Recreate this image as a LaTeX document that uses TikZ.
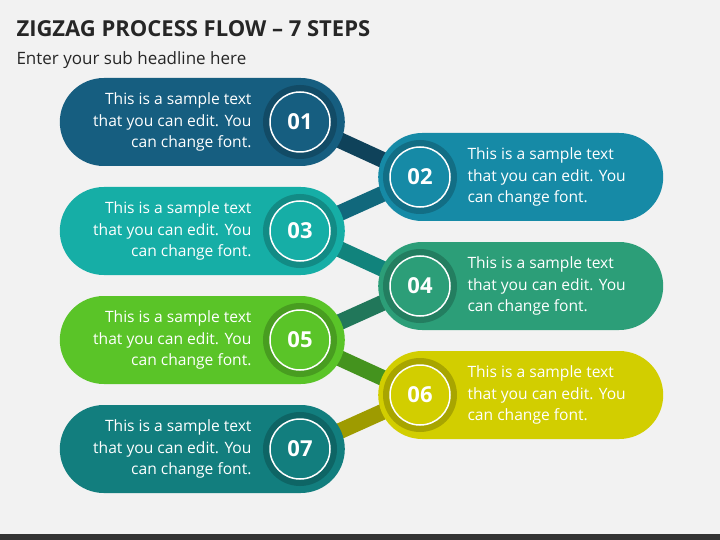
\documentclass[tikz,border=0pt]{standalone}
\usepackage{fontspec}
\setmainfont{Open Sans}
\definecolor{bgray}{RGB}{242,242,242}
\definecolor{stepa}{RGB}{22,94,128}
\definecolor{stepb}{RGB}{22,138,166}
\definecolor{stepc}{RGB}{22,174,166}
\definecolor{stepd}{RGB}{44,158,120}
\definecolor{stepe}{RGB}{90,196,40}
\definecolor{stepf}{RGB}{210,206,0}
\definecolor{stepg}{RGB}{18,126,126}

\tikzset{
    pill/.style={rounded corners=44pt, minimum width=285pt, minimum height=88pt},
    ring/.style={circle, minimum size=74pt, inner sep=0pt},
    numcirc/.style={circle, minimum size=60pt, inner sep=0pt, draw=white, line width=1.5pt,
        text=white, font=\bfseries\fontsize{22}{22}\selectfont},
    stepbar/.style={line width=16pt},
    lefttext/.style={align=right, text=white, font=\fontsize{15.6}{21.5}\selectfont},
    righttext/.style={align=left, text=white, font=\fontsize{15.6}{21.5}\selectfont},
}

\begin{document}
\begin{tikzpicture}[x=1pt, y=-1pt]

    \fill[bgray] (0,0) rectangle (720,540);
    \fill[black!80] (0,534) rectangle (720,540);
    \useasboundingbox (0,0) rectangle (720,540);

    \node[anchor=west, font=\bfseries\fontsize{22}{22}\selectfont, text=black!85] (title) at (13,29) {ZIGZAG PROCESS FLOW – 7 STEPS};
    \node[anchor=west, font=\fontsize{17}{17}\selectfont, text=black!85] (sub) at (13,60) {Enter your sub headline here};

    % circle centres
    \coordinate (c1) at (300,122);
    \coordinate (c2) at (420,177);
    \coordinate (c3) at (300,231);
    \coordinate (c4) at (420,286);
    \coordinate (c5) at (300,340);
    \coordinate (c6) at (420,395);
    \coordinate (c7) at (300,449);

    % connecting bars
    \draw[stepbar, stepa!70!black] (c1) -- (c2);
    \draw[stepbar, stepb!75!black] (c2) -- (c3);
    \draw[stepbar, stepc!75!black] (c3) -- (c4);
    \draw[stepbar, stepd!75!black] (c4) -- (c5);
    \draw[stepbar, stepe!75!black] (c5) -- (c6);
    \draw[stepbar, stepf!75!black] (c6) -- (c7);

    \foreach \c/\col/\num in {c1/stepa/01, c3/stepc/03, c5/stepe/05, c7/stepg/07} {
        \node[pill, fill=\col, anchor=east] (p\num) at ([xshift=45pt]\c) {};
        \node[lefttext, anchor=east] (t\num) at ([xshift=-45pt]\c) {This is a sample text\\that you can edit. You\\can change font.};
        \node[ring, fill=\col!80!black] (r\num) at (\c) {};
        \node[numcirc, fill=\col] (n\num) at (\c) {\num};
    }
    \foreach \c/\col/\num in {c2/stepb/02, c4/stepd/04, c6/stepf/06} {
        \node[pill, fill=\col, anchor=west] (p\num) at ([xshift=-42pt]\c) {};
        \node[righttext, anchor=west] (t\num) at ([xshift=44pt]\c) {This is a sample text\\that you can edit. You\\can change font.};
        \node[ring, fill=\col!80!black] (r\num) at (\c) {};
        \node[numcirc, fill=\col] (n\num) at (\c) {\num};
    }

\end{tikzpicture}
\end{document}
